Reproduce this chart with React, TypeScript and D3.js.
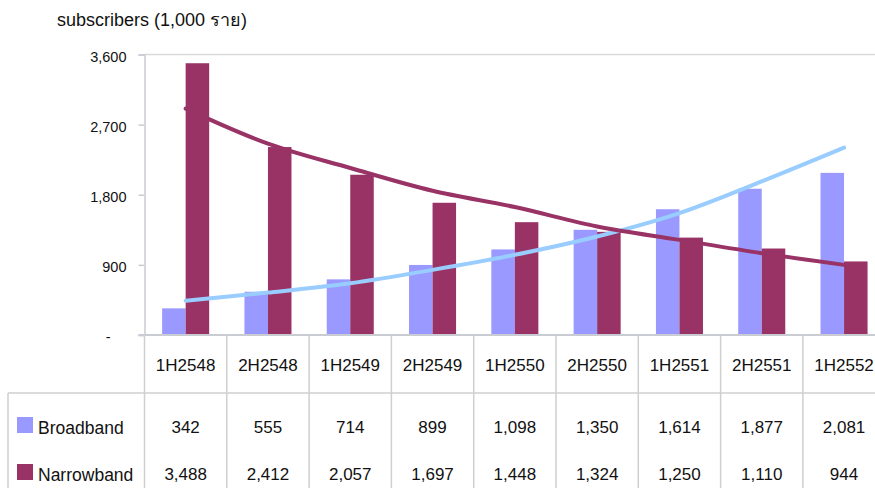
import React, { useEffect, useRef } from 'react'
import * as d3 from 'd3'

const categories = ['1H2548', '2H2548', '1H2549', '2H2549', '1H2550', '2H2550', '1H2551', '2H2551', '1H2552']
const seriesNames = ['Broadband', 'Narrowband']
const broadband = [342, 555, 714, 899, 1098, 1350, 1614, 1877, 2081]
const narrowband = [3488, 2412, 2057, 1697, 1448, 1324, 1250, 1110, 944]
// trend lines at each category centre
const broadbandTrend = [441, 544, 664, 836, 1029, 1264, 1565, 1971, 2404]
const narrowbandTrend = [2906, 2456, 2143, 1851, 1642, 1393, 1221, 1050, 900]
const yTicks = [0, 900, 1800, 2700, 3600]

const barColors = ['#9999ff', '#993366']
const trendColors = ['#99ccff', '#993366']
const font = '"Liberation Sans", Arial, "Noto Sans", sans-serif'

const App = () => {
  const ref = useRef<SVGGElement>(null)

  useEffect(() => {
    const g = d3.select(ref.current)
    g.selectAll('*').remove()

    const left = 144.5
    const step = 82.3
    const top = 54.5
    const base = 335
    const tableTop = 393

    const x0 = d3.scaleBand().domain(categories).range([left, left + step * categories.length]).padding(0)
    const x1 = d3.scaleBand().domain(seriesNames).range([0, x0.step()]).paddingInner(0).paddingOuter(0.75)
    const y = d3.scaleLinear().domain([0, 3600]).range([base, top])
    const values = [broadband, narrowband]
    const trends = [broadbandTrend, narrowbandTrend]
    const lineColor = '#c9ccd2'

    // top border of plot area
    g.append('line')
      .attr('x1', left).attr('x2', 875).attr('y1', y(3600)).attr('y2', y(3600))
      .attr('stroke', '#d9d9d9').attr('stroke-width', 1.5)

    // y axis
    const yAxis = d3.axisLeft(y)
      .tickValues(yTicks)
      .tickSize(6)
      .tickPadding(12)
      .tickFormat(d => (+d === 0 ? '-' : d3.format(',')(+d)))
    const yAxisG = g.append('g').attr('transform', `translate(${left},0)`).call(yAxis)
    yAxisG.select('.domain').attr('stroke', lineColor).attr('stroke-width', 1.5)
    yAxisG.selectAll('line').attr('stroke', lineColor).attr('stroke-width', 1.5)
    yAxisG.selectAll('text')
      .attr('font-family', font).attr('font-size', '14.5px').attr('fill', '#111')
      .attr('dy', '0.45em')
      .attr('dx', d => (+d === 0 ? -16 : 0))

    // bars
    seriesNames.forEach((s, si) => {
      g.append('g').selectAll('rect')
        .data(values[si])
        .enter().append('rect')
        .attr('x', (d, i) => (x0(categories[i]) as number) + (x1(s) as number))
        .attr('y', d => y(d))
        .attr('width', x1.bandwidth())
        .attr('height', d => base - y(d))
        .attr('fill', barColors[si])
    })

    // baseline
    g.append('line')
      .attr('x1', left - 6).attr('x2', 875).attr('y1', base).attr('y2', base)
      .attr('stroke', lineColor).attr('stroke-width', 2)

    // data table grid
    const tableColor = '#cfcfcf'
    const bounds = categories.map(c => x0(c) as number).concat([left + step * categories.length])
    g.append('g').selectAll('line')
      .data(bounds)
      .enter().append('line')
      .attr('x1', d => d).attr('x2', d => d)
      .attr('y1', base).attr('y2', 488)
      .attr('stroke', tableColor).attr('stroke-width', 1.5)
    g.append('line')
      .attr('x1', 8).attr('x2', 875).attr('y1', tableTop).attr('y2', tableTop)
      .attr('stroke', tableColor).attr('stroke-width', 1.5)
    g.append('line')
      .attr('x1', 8).attr('x2', 8).attr('y1', tableTop).attr('y2', 488)
      .attr('stroke', tableColor).attr('stroke-width', 1.5)

    // trend lines
    const line = d3.line<number>()
      .x((d, i) => (x0(categories[i]) as number) + x0.step() / 2)
      .y(d => y(d))
      .curve(d3.curveMonotoneX)
    trends.forEach((t, si) => {
      g.append('path')
        .attr('d', line(t))
        .attr('fill', 'none')
        .attr('stroke', trendColors[si])
        .attr('stroke-width', 4)
        .attr('stroke-linecap', 'round')
    })

    // category labels
    g.append('g').selectAll('text')
      .data(categories)
      .enter().append('text')
      .attr('x', d => (x0(d) as number) + x0.step() / 2)
      .attr('y', 371)
      .attr('text-anchor', 'middle')
      .attr('font-family', font).attr('font-size', '17px').attr('fill', '#111')
      .text(d => d)

    // table rows
    const rowY = [433, 480]
    seriesNames.forEach((s, si) => {
      g.append('rect')
        .attr('x', 17).attr('y', rowY[si] - 16).attr('width', 16).attr('height', 16)
        .attr('fill', barColors[si])
      g.append('text')
        .attr('x', 38).attr('y', rowY[si] + 1)
        .attr('font-family', font).attr('font-size', '17.5px').attr('fill', '#111')
        .text(s)
      g.append('g').selectAll('text')
        .data(values[si])
        .enter().append('text')
        .attr('x', (d, i) => (x0(categories[i]) as number) + x0.step() / 2)
        .attr('y', rowY[si])
        .attr('text-anchor', 'middle')
        .attr('font-family', font).attr('font-size', '17px').attr('fill', '#111')
        .text(d => d3.format(',')(d))
    })

    // title
    g.append('text')
      .attr('x', 57).attr('y', 26)
      .attr('font-family', font).attr('font-size', '18px').attr('fill', '#111')
      .text('subscribers (1,000 ราย)')
  }, [])

  return (
    <svg width={875} height={488} style={{ position: 'absolute', left: 0, top: 0, background: '#fff' }}>
      <g ref={ref} />
    </svg>
  )
}

export default App
